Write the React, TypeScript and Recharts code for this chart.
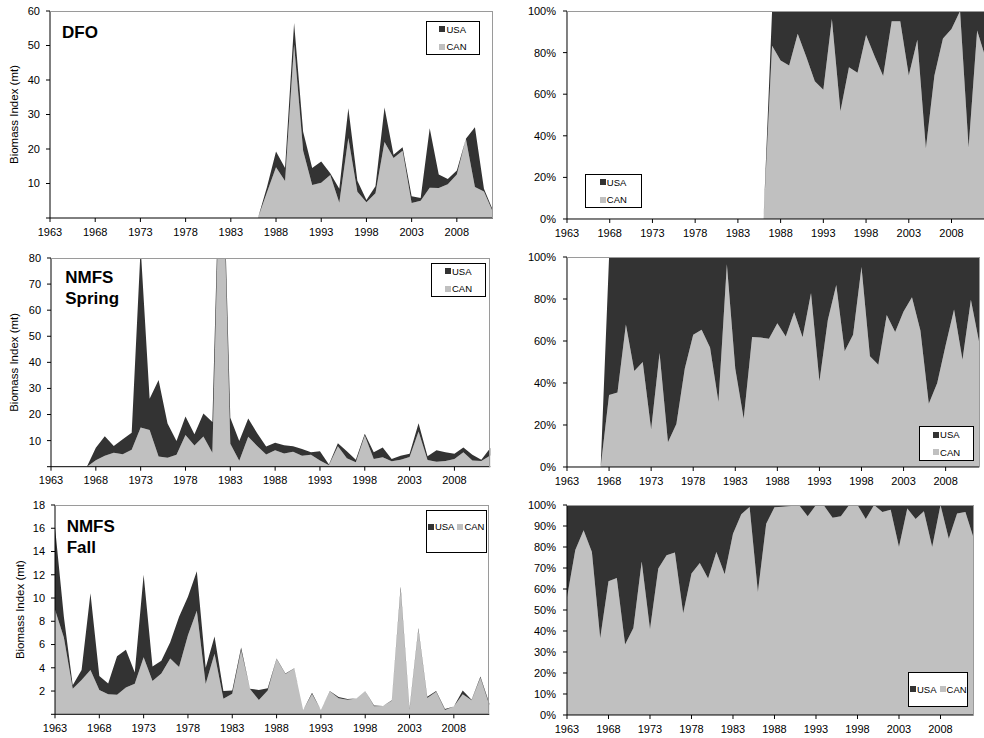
import { Area, AreaChart, Legend, XAxis, YAxis } from 'recharts'

const FONT = '"Liberation Sans", Arial, Helvetica, sans-serif'
const DARK = '#333333'
const LIGHT = '#c0c0c0'

const years = [
  1963, 1964, 1965, 1966, 1967, 1968, 1969, 1970, 1971, 1972,
  1973, 1974, 1975, 1976, 1977, 1978, 1979, 1980, 1981, 1982,
  1983, 1984, 1985, 1986, 1987, 1988, 1989, 1990, 1991, 1992,
  1993, 1994, 1995, 1996, 1997, 1998, 1999, 2000, 2001, 2002,
  2003, 2004, 2005, 2006, 2007, 2008, 2009, 2010, 2011, 2012,
]
const yearTicks = [1963, 1968, 1973, 1978, 1983, 1988, 1993, 1998, 2003, 2008]

// DFO survey (mt)
const dfoUSA = [
  0, 0, 0, 0, 0, 0, 0, 0, 0, 0,
  0, 0, 0, 0, 0, 0, 0, 0, 0, 0,
  0, 0, 0, 0, 1.5, 4.6, 3.8, 6.2, 5.5, 4.9,
  6.2, 0.5, 4.1, 8.6, 3.2, 0.6, 2.0, 10, 0.9, 1.0,
  1.95, 0.8, 17.2, 3.9, 1.5, 1.2, 0, 17.3, 0.8, 0.5,
]
const dfoCAN = [
  0, 0, 0, 0, 0, 0, 0, 0, 0, 0,
  0, 0, 0, 0, 0, 0, 0, 0, 0, 0,
  0, 0, 0, 0, 7.5, 14.7, 10.7, 50.3, 19.5, 9.6,
  10.2, 12.5, 4.4, 23.2, 7.6, 4.6, 7.2, 22, 17.4, 19.5,
  4.35, 5.0, 8.8, 8.7, 9.8, 12.6, 23, 9, 7.7, 1.7,
]

// NMFS spring survey (mt)
const springUSA = [
  0, 0, 0, 0, 0, 4.8, 7.55, 2.54, 5.7, 6.5,
  69, 11.9, 29.3, 13.2, 5.2, 7.1, 4.3, 8.8, 11.8, 5,
  10, 7.55, 7.05, 4.9, 3.0, 2.9, 3.1, 2.05, 2.6, 0.94,
  3.5, 0.24, 1.2, 2.65, 1.0, 0.6, 2.6, 3.8, 0.8, 1.5,
  1.3, 3.2, 1.4, 4.4, 3.3, 2.1, 1.85, 2.25, 0.55, 2.95,
]
const springCAN = [
  0, 0, 0, 0, 0, 2.5, 4.15, 5.36, 4.8, 6.5,
  15, 14.1, 3.9, 3.4, 4.6, 12.1, 8.1, 11.6, 5.3, 140,
  8.8, 2.25, 11.45, 7.9, 4.7, 6.3, 5.1, 5.75, 4.2, 4.56,
  2.4, 0.56, 7.8, 3.25, 1.7, 12, 2.9, 3.6, 2.1, 2.7,
  3.7, 13.5, 2.6, 1.9, 2.2, 2.9, 5.55, 2.35, 2.15, 4.25,
]

// NMFS fall survey (mt)
const fallUSA = [
  7.1, 1.8, 0.3, 0.85, 6.6, 1.2, 0.92, 3.32, 3.25, 0.97,
  7.1, 1.24, 1.1, 1.4, 4.33, 3.3, 3.4, 1.4, 1.5, 0.66,
  0.28, 0.25, 0.02, 0.87, 0.2, 0.05, 0.03, 0.02, 0.001, 0.1,
  0, 0.01, 0.09, 0.07, 0, 0, 0.05, 0, 0.04, 0.25,
  0.1, 0.12, 0.1, 0.06, 0.09, 0, 0.33, 0.05, 0.11, 0.15,
]
const fallCAN = [
  9, 6.6, 2.2, 2.95, 3.8, 2.1, 1.73, 1.68, 2.3, 2.63,
  4.9, 2.86, 3.5, 4.8, 4.07, 6.8, 8.9, 2.6, 5.2, 1.34,
  1.77, 5.5, 2.18, 1.23, 2.05, 4.75, 3.47, 3.93, 0.37, 1.75,
  0.37, 1.99, 1.39, 1.25, 1.35, 2.0, 0.7, 0.72, 1.16, 10.75,
  0.4, 7.3, 1.4, 1.94, 0.36, 0.66, 1.72, 1.2, 3.14, 0.8,
]

const dfoTicks = [0, 10, 20, 30, 40, 50, 60]
const springTicks = [0, 10, 20, 30, 40, 50, 60, 70, 80]
const fallTicks = [0, 2, 4, 6, 8, 10, 12, 14, 16, 18]
const pctTicks = [0, 0.2, 0.4, 0.6, 0.8, 1]
const pctTicksFine = [0, 0.1, 0.2, 0.3, 0.4, 0.5, 0.6, 0.7, 0.8, 0.9, 1]

const legendOrder = ['USA', 'CAN']
const seriesColor: Record<string, string> = { USA: DARK, CAN: LIGHT }

const YW = 44
const XH = 26
const ML = 6
const MT = 10
const MR = 6
const MB = 4

interface Box { left: number; right: number; top: number; bottom: number }
interface LegendSpec { left: number; top: number; width: number; height: number; inline?: boolean; lift?: number }

interface PanelProps {
  plot: Box
  usa: number[]
  can: number[]
  percent?: boolean
  yMax: number
  yTicks: number[]
  title?: string[]
  titleX?: number
  titleY?: number
  labelX?: number
  legend: LegendSpec
}

function LegendBox({ payload, spec }: { payload?: any[]; spec: LegendSpec }) {
  const items = [...(payload ?? [])].sort(
    (a, b) => legendOrder.indexOf(a.value) - legendOrder.indexOf(b.value)
  )
  return (
    <div
      style={{
        boxSizing: 'border-box',
        width: spec.width,
        height: spec.height,
        border: '1px solid #000',
        background: '#fff',
        display: 'flex',
        alignItems: 'center',
        justifyContent: 'center',
        paddingBottom: spec.lift ?? 0,
        fontFamily: FONT,
        fontSize: 9.5,
        color: '#000',
      }}
    >
      <div style={{ display: 'flex', flexDirection: spec.inline ? 'row' : 'column', gap: spec.inline ? 3 : 0 }}>
        {items.map((it) => (
          <div key={it.value} style={{ display: 'flex', alignItems: 'center', height: 17.4, whiteSpace: 'nowrap' }}>
            <span style={{ display: 'inline-block', width: 6, height: 6, background: seriesColor[it.value], marginRight: 1 }} />
            <span>{it.value}</span>
          </div>
        ))}
      </div>
    </div>
  )
}

function Panel({ plot, usa, can, percent, yMax, yTicks, title, titleX = 0, titleY = 0, labelX, legend }: PanelProps) {
  const chartLeft = plot.left - YW - ML
  const chartTop = plot.top - MT
  const w = plot.right - plot.left + YW + ML + MR
  const h = plot.bottom - plot.top + MT + XH + MB
  const data = years.map((year, i) => ({ year, USA: usa[i], CAN: can[i] }))
  const tickStyle = { fill: '#000', fontSize: 11, fontFamily: FONT }

  return (
    <>
      <div style={{ position: 'absolute', left: chartLeft, top: chartTop }}>
        <AreaChart
          width={w}
          height={h}
          data={data}
          margin={{ top: MT, right: MR, bottom: MB, left: ML }}
          stackOffset={percent ? 'expand' : 'none'}
        >
          <XAxis
            type="number"
            dataKey="year"
            domain={[1963, 2012]}
            ticks={yearTicks}
            interval={0}
            height={XH}
            tickSize={4}
            tickMargin={6}
            stroke="#000"
            tick={tickStyle}
          />
          <YAxis
            type="number"
            domain={[0, yMax]}
            ticks={yTicks}
            interval={0}
            allowDataOverflow
            width={YW}
            tickSize={4}
            tickMargin={percent ? 7 : 6}
            stroke="#000"
            tick={tickStyle}
            tickFormatter={(v: number) => (percent ? `${Math.round(v * 100)}%` : v === 0 ? '' : String(v))}
          />
          <Area
            type="linear"
            dataKey="CAN"
            name="CAN"
            stackId="a"
            fill={LIGHT}
            fillOpacity={1}
            stroke="none"
            dot={false}
            activeDot={false}
            isAnimationActive={false}
          />
          <Area
            type="linear"
            dataKey="USA"
            name="USA"
            stackId="a"
            fill={DARK}
            fillOpacity={1}
            stroke="none"
            dot={false}
            activeDot={false}
            isAnimationActive={false}
          />
          <Legend
            layout="horizontal"
            verticalAlign="middle"
            align="center"
            wrapperStyle={{
              left: legend.left - chartLeft,
              top: legend.top - chartTop,
              width: legend.width,
              height: legend.height,
            }}
            content={(props: any) => <LegendBox payload={props.payload} spec={legend} />}
          />
          {title &&
            title.map((t, i) => (
              <text
                key={t}
                x={titleX - chartLeft}
                y={titleY - chartTop + i * 21}
                fontFamily={FONT}
                fontWeight="bold"
                fontSize={17}
                fill="#000"
              >
                {t}
              </text>
            ))}
          {labelX !== undefined && (
            <text
              transform={`translate(${labelX - chartLeft}, ${(plot.top + plot.bottom) / 2 - chartTop}) rotate(-90)`}
              textAnchor="middle"
              dominantBaseline="middle"
              fontFamily={FONT}
              fontSize={11.5}
              fill="#000"
            >
              Biomass Index (mt)
            </text>
          )}
        </AreaChart>
      </div>
      <div
        style={{
          position: 'absolute',
          left: plot.left,
          top: plot.top,
          width: plot.right - plot.left,
          height: plot.bottom - plot.top,
          boxSizing: 'border-box',
          borderTop: '1px solid #9a9a9a',
          borderRight: '1px solid #9a9a9a',
          pointerEvents: 'none',
        }}
      />
    </>
  )
}

export default function App() {
  return (
    <div
      style={{
        position: 'absolute',
        left: 0,
        top: 0,
        width: 984,
        height: 738,
        overflow: 'hidden',
        background: '#fff',
        fontFamily: FONT,
      }}
    >
      <Panel
        plot={{ left: 50, right: 493, top: 11, bottom: 218 }}
        usa={dfoUSA}
        can={dfoCAN}
        yMax={60}
        yTicks={dfoTicks}
        title={['DFO']}
        titleX={62}
        titleY={37.5}
        labelX={15}
        legend={{ left: 426, top: 20.7, width: 54, height: 34.3 }}
      />
      <Panel
        plot={{ left: 566.7, right: 985.4, top: 11, bottom: 219 }}
        usa={dfoUSA}
        can={dfoCAN}
        percent
        yMax={1}
        yTicks={pctTicks}
        legend={{ left: 585, top: 174, width: 56.7, height: 34.3 }}
      />
      <Panel
        plot={{ left: 50.7, right: 490, top: 258.3, bottom: 467 }}
        usa={springUSA}
        can={springCAN}
        yMax={80}
        yTicks={springTicks}
        title={['NMFS', 'Spring']}
        titleX={65}
        titleY={283.3}
        labelX={15}
        legend={{ left: 431, top: 262.7, width: 55, height: 34.6 }}
      />
      <Panel
        plot={{ left: 567.3, right: 979.6, top: 257.3, bottom: 467.3 }}
        usa={springUSA}
        can={springCAN}
        percent
        yMax={1}
        yTicks={pctTicks}
        legend={{ left: 919.3, top: 426, width: 54.7, height: 34.7 }}
      />
      <Panel
        plot={{ left: 55, right: 489.3, top: 505, bottom: 714.3 }}
        usa={fallUSA}
        can={fallCAN}
        yMax={18}
        yTicks={fallTicks}
        title={['NMFS', 'Fall']}
        titleX={66.7}
        titleY={531.7}
        labelX={20.7}
        legend={{ left: 425.7, top: 510, width: 61, height: 43.3, inline: true, lift: 10 }}
      />
      <Panel
        plot={{ left: 567.3, right: 974, top: 505, bottom: 715 }}
        usa={fallUSA}
        can={fallCAN}
        percent
        yMax={1}
        yTicks={pctTicksFine}
        legend={{ left: 908.3, top: 672.3, width: 60, height: 34.4, inline: true }}
      />
    </div>
  )
}
